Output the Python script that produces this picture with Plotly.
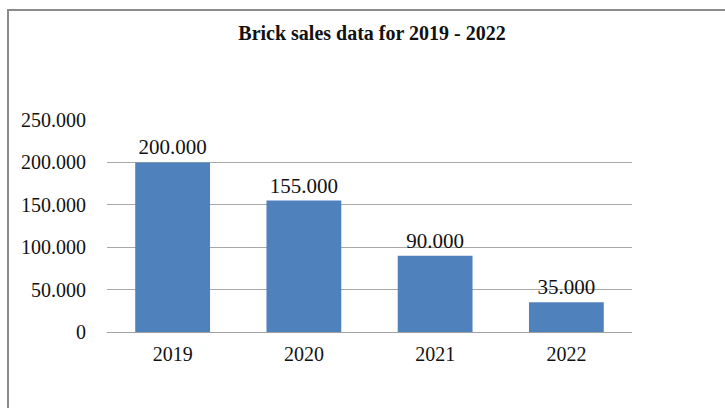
import plotly.graph_objects as go

years = ["2019", "2020", "2021", "2022"]
sales = [200000, 155000, 90000, 35000]
title = "Brick sales data for 2019 - 2022"

fig = go.Figure(go.Bar(
    x=years, y=sales,
    marker=dict(color="#4F81BD", line=dict(width=0)),
    text=sales, texttemplate="%{y:,}", textposition="outside",
    textfont=dict(family="Liberation Serif", size=21, color="#111"),
    cliponaxis=False,
))

L, R, T, B = 107, 632, 120, 332
W, H = 725, 408
fig.update_layout(
    width=W, height=H,
    margin=dict(l=L, r=W - R, t=T, b=H - B),
    paper_bgcolor="white", plot_bgcolor="white",
    separators=",.",
    bargap=0.43,
    showlegend=False,
    font=dict(family="Liberation Serif", size=20, color="#111"),
    title=dict(text="<b>" + title + "</b>", x=372 / W, xanchor="center",
               y=1 - 33 / H, yanchor="middle",
               font=dict(family="Liberation Serif", size=20, color="#111")),
    xaxis=dict(showgrid=False, showline=True, linecolor="#a0a0a0", linewidth=1,
               ticks="outside", ticklen=4, tickcolor="rgba(0,0,0,0)",
               tickfont=dict(size=20)),
    yaxis=dict(range=[0, 250000], tickvals=[0, 50000, 100000, 150000, 200000, 250000],
               tickformat=",d", showgrid=True, gridcolor="#a8a8a8", gridwidth=1,
               zeroline=False, ticks="outside", ticklen=16,
               tickcolor="rgba(0,0,0,0)", tickfont=dict(size=20)),
    shapes=[dict(type="rect", xref="paper", yref="paper",
                 x0=(8 - L) / (R - L), x1=2,
                 y0=-1, y1=(B - 10) / (B - T),
                 line=dict(color="#8a8a8a", width=2), layer="below")],
)

fig.write_html("out.html")
